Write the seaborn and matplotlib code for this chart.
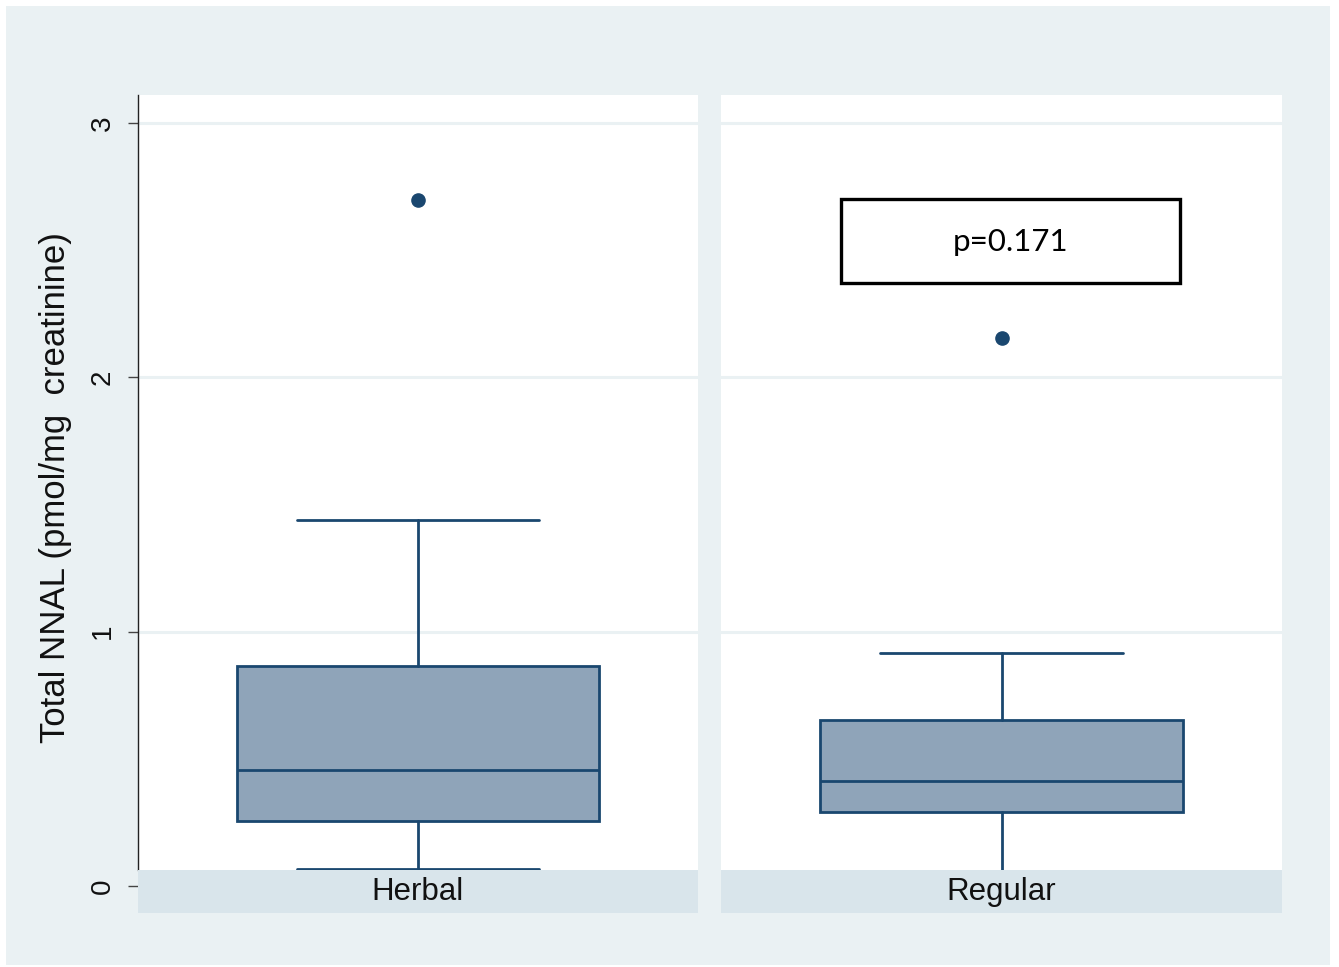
import matplotlib
matplotlib.use("Agg")
import matplotlib.pyplot as plt
from matplotlib.patches import Rectangle
import pandas as pd
import seaborn as sns

# Five-number summaries and outliers per group
groups = ["Herbal", "Regular"]
whisker_low = [0.067, 0.03]
q1 = [0.256, 0.291]
median = [0.456, 0.413]
q3 = [0.865, 0.653]
whisker_high = [1.439, 0.916]
outliers = [[2.698], [2.155]]

y_ticks = [0, 1, 2, 3]
y_label = "Total NNAL (pmol/mg  creatinine)"
p_text = "p=0.171"

NAVY = "#1a476f"
FILL = "#8fa4b9"
BG = "#eaf1f3"
STRIP = "#d9e5eb"
GRID = "#eaf1f3"

sns.set_theme(style="white")
plt.rcParams["font.family"] = ["Liberation Sans", "DejaVu Sans"]

df = pd.DataFrame({
    "group": groups,
    "whislo": whisker_low,
    "q1": q1,
    "med": median,
    "q3": q3,
    "whishi": whisker_high,
    "fliers": outliers,
})

Y_MIN, Y_MAX = -0.1062, 3.1105
STRIP_TOP = 0.0629


def draw_box(data, **kwargs):
    ax = plt.gca()
    row = data.iloc[0]
    stats = [{
        "whislo": row["whislo"], "q1": row["q1"], "med": row["med"],
        "q3": row["q3"], "whishi": row["whishi"], "fliers": row["fliers"],
        "label": row["group"],
    }]
    line = dict(color=NAVY, linewidth=2.0)
    ax.bxp(stats, positions=[0.5], widths=[0.646], capwidths=[0.432],
           patch_artist=True, manage_ticks=False,
           boxprops=dict(facecolor=FILL, edgecolor=NAVY, linewidth=2.0),
           medianprops=line, whiskerprops=line, capprops=line,
           flierprops=dict(marker="o", markerfacecolor=NAVY,
                           markeredgecolor=NAVY, markersize=9.5))
    for t in y_ticks[1:]:
        ax.axhline(t, color=GRID, linewidth=2.2, zorder=0)
    # group label strip along the bottom of each panel
    ax.axhspan(Y_MIN, STRIP_TOP, xmin=0, xmax=1, facecolor=STRIP,
               edgecolor="none", zorder=5)
    ax.text(0.5, -0.022, row["group"], ha="center", va="center",
            fontsize=22.5, color="#111111", zorder=6)


g = sns.FacetGrid(df, col="group", sharey=True, height=6, aspect=1)
g.map_dataframe(draw_box)

fig = g.figure
fig.set_size_inches(13.39, 9.67)
fig.set_facecolor("white")
fig.patches.append(Rectangle((6 / 1339, 1 - 965 / 967), 1324 / 1339, 959 / 967,
                             transform=fig.transFigure, facecolor=BG,
                             edgecolor="none", zorder=-10))

positions = [(138, 698), (721, 1282)]
for ax, (x0, x1) in zip(g.axes.flat, positions):
    ax.set_position([x0 / 1339, 1 - 913 / 967, (x1 - x0) / 1339, 818 / 967])
    ax.set_xlim(0, 1)
    ax.set_ylim(Y_MIN, Y_MAX)
    ax.set_facecolor("white")
    ax.set_title("")
    ax.set_xlabel("")
    ax.set_xticks([])
    for s in ["top", "right", "bottom"]:
        ax.spines[s].set_visible(False)

left_ax, right_ax = g.axes.flat
left_ax.spines["left"].set_visible(True)
left_ax.spines["left"].set_color("#222222")
left_ax.spines["left"].set_linewidth(1.0)
left_ax.spines["left"].set_bounds(STRIP_TOP, Y_MAX)
left_ax.set_yticks(y_ticks)
left_ax.set_yticklabels([str(t) for t in y_ticks], rotation=90, va="center",
                        fontsize=20, color="#111111")
left_ax.tick_params(axis="y", left=True, length=7, width=1.0,
                    color="#444444", pad=9)
left_ax.set_ylabel(y_label, fontsize=25, color="#111111")
left_ax.yaxis.set_label_coords(-0.118, 0.52)

right_ax.spines["left"].set_visible(False)
right_ax.tick_params(axis="y", left=False, labelleft=False)
right_ax.set_ylabel("")

# annotation box with the test result
bx0, bx1 = 0.214, 0.818
by0, by1 = 2.371, 2.701
right_ax.add_patch(Rectangle((bx0, by0), bx1 - bx0, by1 - by0,
                             facecolor="white", edgecolor="black",
                             linewidth=2.4, zorder=7))
right_ax.text((bx0 + bx1) / 2, (by0 + by1) / 2 - 0.005, p_text, ha="center",
              va="center", fontsize=22.5, family=["Lato", "DejaVu Sans"],
              color="black", zorder=8)

fig.savefig("out.png", dpi=100, facecolor="white")
